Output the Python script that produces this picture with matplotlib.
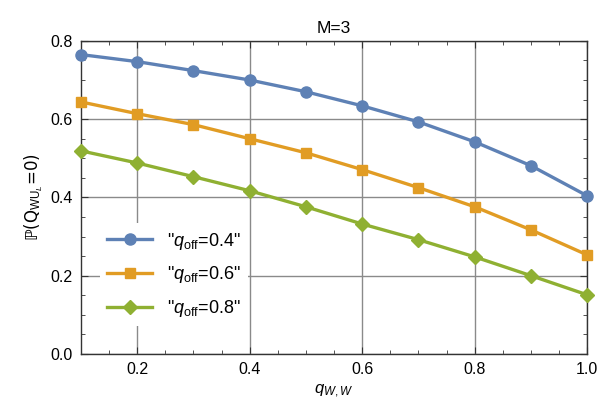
import matplotlib
matplotlib.use('Agg')
import matplotlib.pyplot as plt
from matplotlib.ticker import MultipleLocator

plt.rcParams['font.family'] = ['Liberation Sans', 'DejaVu Sans']
plt.rcParams['mathtext.fontset'] = 'custom'
plt.rcParams['mathtext.rm'] = 'Liberation Sans'
plt.rcParams['mathtext.it'] = 'Liberation Sans:italic'
plt.rcParams['mathtext.bf'] = 'Liberation Sans:bold'

q_ww = [0.1, 0.2, 0.3, 0.4, 0.5, 0.6, 0.7, 0.8, 0.9, 1.0]
p_q04 = [0.765, 0.747, 0.724, 0.700, 0.670, 0.634, 0.593, 0.542, 0.481, 0.404]
p_q06 = [0.644, 0.614, 0.586, 0.550, 0.514, 0.471, 0.425, 0.376, 0.317, 0.253]
p_q08 = [0.519, 0.488, 0.453, 0.417, 0.376, 0.332, 0.292, 0.248, 0.200, 0.151]
labels = ['"$q_{\\mathrm{off}}$=0.4"', '"$q_{\\mathrm{off}}$=0.6"', '"$q_{\\mathrm{off}}$=0.8"']

colors = ['#5E81B5', '#E19C24', '#8FB032']
markers = ['o', 's', 'D']
sizes = [8, 6.5, 7]

fig = plt.figure(figsize=(6.13, 4.13), dpi=100)
ax = fig.add_axes([0.132, 0.143, 0.826, 0.758])

for ys, c, m, ms, lab in zip([p_q04, p_q06, p_q08], colors, markers, sizes, labels):
    ax.plot(q_ww, ys, color=c, marker=m, markersize=ms, linewidth=2.4, label=lab,
            clip_on=False, zorder=3)

ax.set_xlim(0.1, 1.0)
ax.set_ylim(0.0, 0.8)
ax.xaxis.set_major_locator(MultipleLocator(0.2))
ax.xaxis.set_minor_locator(MultipleLocator(0.05))
ax.yaxis.set_major_locator(MultipleLocator(0.2))
ax.yaxis.set_minor_locator(MultipleLocator(0.05))
ax.grid(True, which='major', color='#8a8a8a', linewidth=1.0)
ax.tick_params(which='both', direction='in', top=True, right=True, labelsize=11.5,
               color='#333333', pad=6)
ax.tick_params(which='major', length=5)
ax.tick_params(which='minor', length=3)
for s in ax.spines.values():
    s.set_color('#333333')
    s.set_linewidth(1.0)

ax.set_xlabel('$q_{W,W}$', fontsize=12)
ax.set_ylabel('ℙ(Q$_{\\mathrm{WU}_L}$=0)', fontsize=12, family=['DejaVu Sans'])
ax.set_title('M=3', fontsize=12.5)

leg = ax.legend(loc='lower left', bbox_to_anchor=(0.02, 0.06), frameon=True, fontsize=13,
                handlelength=2.5, labelspacing=0.7, borderpad=0.4)
leg.get_frame().set_edgecolor('none')
leg.get_frame().set_facecolor('white')
leg.get_frame().set_alpha(1.0)

fig.savefig('out.png', dpi=100)
